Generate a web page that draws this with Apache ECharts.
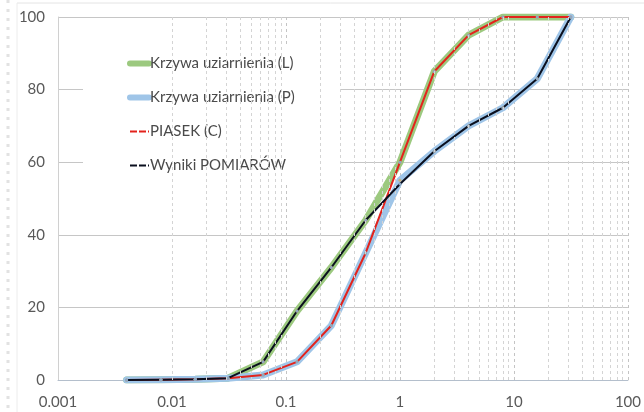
<!DOCTYPE html>
<html>
<head>
<meta charset="utf-8">
<script src="https://cdn.jsdelivr.net/npm/echarts@6/dist/echarts.min.js"></script>
<style>
html,body{margin:0;padding:0;background:#fff;}
#c{width:644px;height:412px;}
</style>
</head>
<body>
<div id="c"></div>
<script>
// Sieve sizes (mm) and passing percentages
const sizes   = [0.004, 0.008, 0.016, 0.031, 0.063, 0.125, 0.25, 0.5, 1, 2, 4, 8, 16, 31.5];
const curveL  = [0, 0.1, 0.2, 0.5, 5, 19, 31, 44, 60, 85, 95, 100, 100, 100];
const curveP  = [0, 0.1, 0.2, 0.5, 1.4, 5, 15, 35, 55, 63, 70, 75, 83, 100];
const piasek  = [0, 0.1, 0.2, 0.5, 1.4, 5, 15, 35, 60, 85, 95, 100, 100, 100];
const wyniki  = [0, 0.1, 0.2, 0.5, 5, 19, 31, 44, 54, 63, 70, 75, 83, 100];
const seriesNames = ['Krzywa uziarnienia (L)', 'Krzywa uziarnienia (P)', 'PIASEK (C)', 'Wyniki POMIARÓW'];
const xTickLabels = ['0.001', '0.01', '0.1', '1', '10', '100'];
const yTickLabels = ['0', '20', '40', '60', '80', '100'];

const pairs = arr => sizes.map((s, i) => [s, arr[i]]);

// minor log gridlines 2..9 per decade
const minorLines = [];
[0.001, 0.01, 0.1, 1, 10].forEach(d => {
  for (let k = 2; k <= 9; k++) minorLines.push({ xAxis: +(d * k).toPrecision(3) });
});

const FONT = 'Lato';
const chart = echarts.init(document.getElementById('c'));
chart.setOption({
  animation: false,
  backgroundColor: '#fff',
  textStyle: { fontFamily: FONT },
  graphic: [
    { type: 'line', silent: true, shape: { x1: 17, y1: 3, x2: 644, y2: 3 }, style: { stroke: '#e4e4e4', lineWidth: 1 } },
    { type: 'line', silent: true, shape: { x1: 17, y1: 3, x2: 17, y2: 412 }, style: { stroke: '#ececec', lineWidth: 1 } },
    { type: 'line', silent: true, shape: { x1: 8, y1: 0, x2: 8, y2: 412 }, style: { stroke: '#e2e2e2', lineWidth: 3, lineDash: [3, 6] } }
  ],
  grid: { left: 58, right: 16, top: 17, bottom: 32, containLabel: false },
  legend: {
    data: [
      { name: seriesNames[0], lineStyle: { width: 6 }, itemStyle: { color: '#9cc97f', opacity: 0 } },
      { name: seriesNames[1], lineStyle: { width: 6 }, itemStyle: { color: '#9fc5e8', opacity: 0 } },
      { name: seriesNames[2], lineStyle: { width: 2, type: [7, 2] }, itemStyle: { color: '#e3231c', opacity: 0 } },
      { name: seriesNames[3], lineStyle: { width: 2, type: [7, 2] }, itemStyle: { color: '#0a0f1e', opacity: 0 } }
    ],
    orient: 'vertical',
    left: 83,
    top: 46,
    padding: [10, 46, 10, 44],
    itemGap: 19,
    itemWidth: 19,
    itemHeight: 12,
    backgroundColor: '#fff',
    textStyle: { fontFamily: FONT, fontSize: 15, color: '#4a4a4a', padding: [0, 0, 0, -4] }
  },
  xAxis: {
    type: 'log',
    logBase: 10,
    min: 0.001,
    max: 100,
    axisLine: { show: true, lineStyle: { color: '#b4bfcc', width: 1 } },
    axisTick: { show: false },
    axisLabel: {
      fontFamily: FONT, fontSize: 15, color: '#595959', margin: 15,
      formatter: v => xTickLabels[Math.round(Math.log10(v)) + 3]
    },
    splitLine: { show: true, lineStyle: { color: '#c4c4c4', type: [3, 3], width: 1 } },
    minorTick: { show: false },
    minorSplitLine: { show: false }
  },
  yAxis: {
    type: 'value',
    min: 0,
    max: 100,
    interval: 20,
    axisLine: { show: true, lineStyle: { color: '#d0d0d0' } },
    axisTick: { show: false },
    axisLabel: {
      fontFamily: FONT, fontSize: 15, color: '#595959', margin: 13,
      formatter: v => yTickLabels[Math.round(v / 20)]
    },
    splitLine: { show: true, lineStyle: { color: '#c6c6c6', width: 1 } }
  },
  series: [
    {
      name: 'grid-minor', type: 'line', data: [], silent: true,
      markLine: {
        silent: true, symbol: 'none', label: { show: false },
        lineStyle: { color: '#d4d4d4', type: [3, 3], width: 1 },
        data: minorLines
      }
    },
    {
      name: seriesNames[0], type: 'line', data: pairs(curveL),
      lineStyle: { color: '#9cc97f', width: 7, cap: 'round', join: 'round' },
      itemStyle: { color: '#d8a070' },
      symbol: 'circle', symbolSize: 3
    },
    {
      name: seriesNames[1], type: 'line', data: pairs(curveP),
      lineStyle: { color: '#9fc5e8', width: 7, cap: 'round', join: 'round' },
      itemStyle: { color: '#c8b080' },
      symbol: 'circle', symbolSize: 3
    },
    {
      name: seriesNames[2], type: 'line', data: pairs(piasek),
      lineStyle: { color: '#e3231c', width: 2 },
      itemStyle: { color: '#8fa6c0' },
      symbol: 'circle', symbolSize: 3
    },
    {
      name: seriesNames[3], type: 'line', data: pairs(wyniki),
      lineStyle: { color: '#0a0f1e', width: 2 },
      itemStyle: { color: '#8fa6c0' },
      symbol: 'circle', symbolSize: 3
    }
  ]
});
</script>
</body>
</html>
